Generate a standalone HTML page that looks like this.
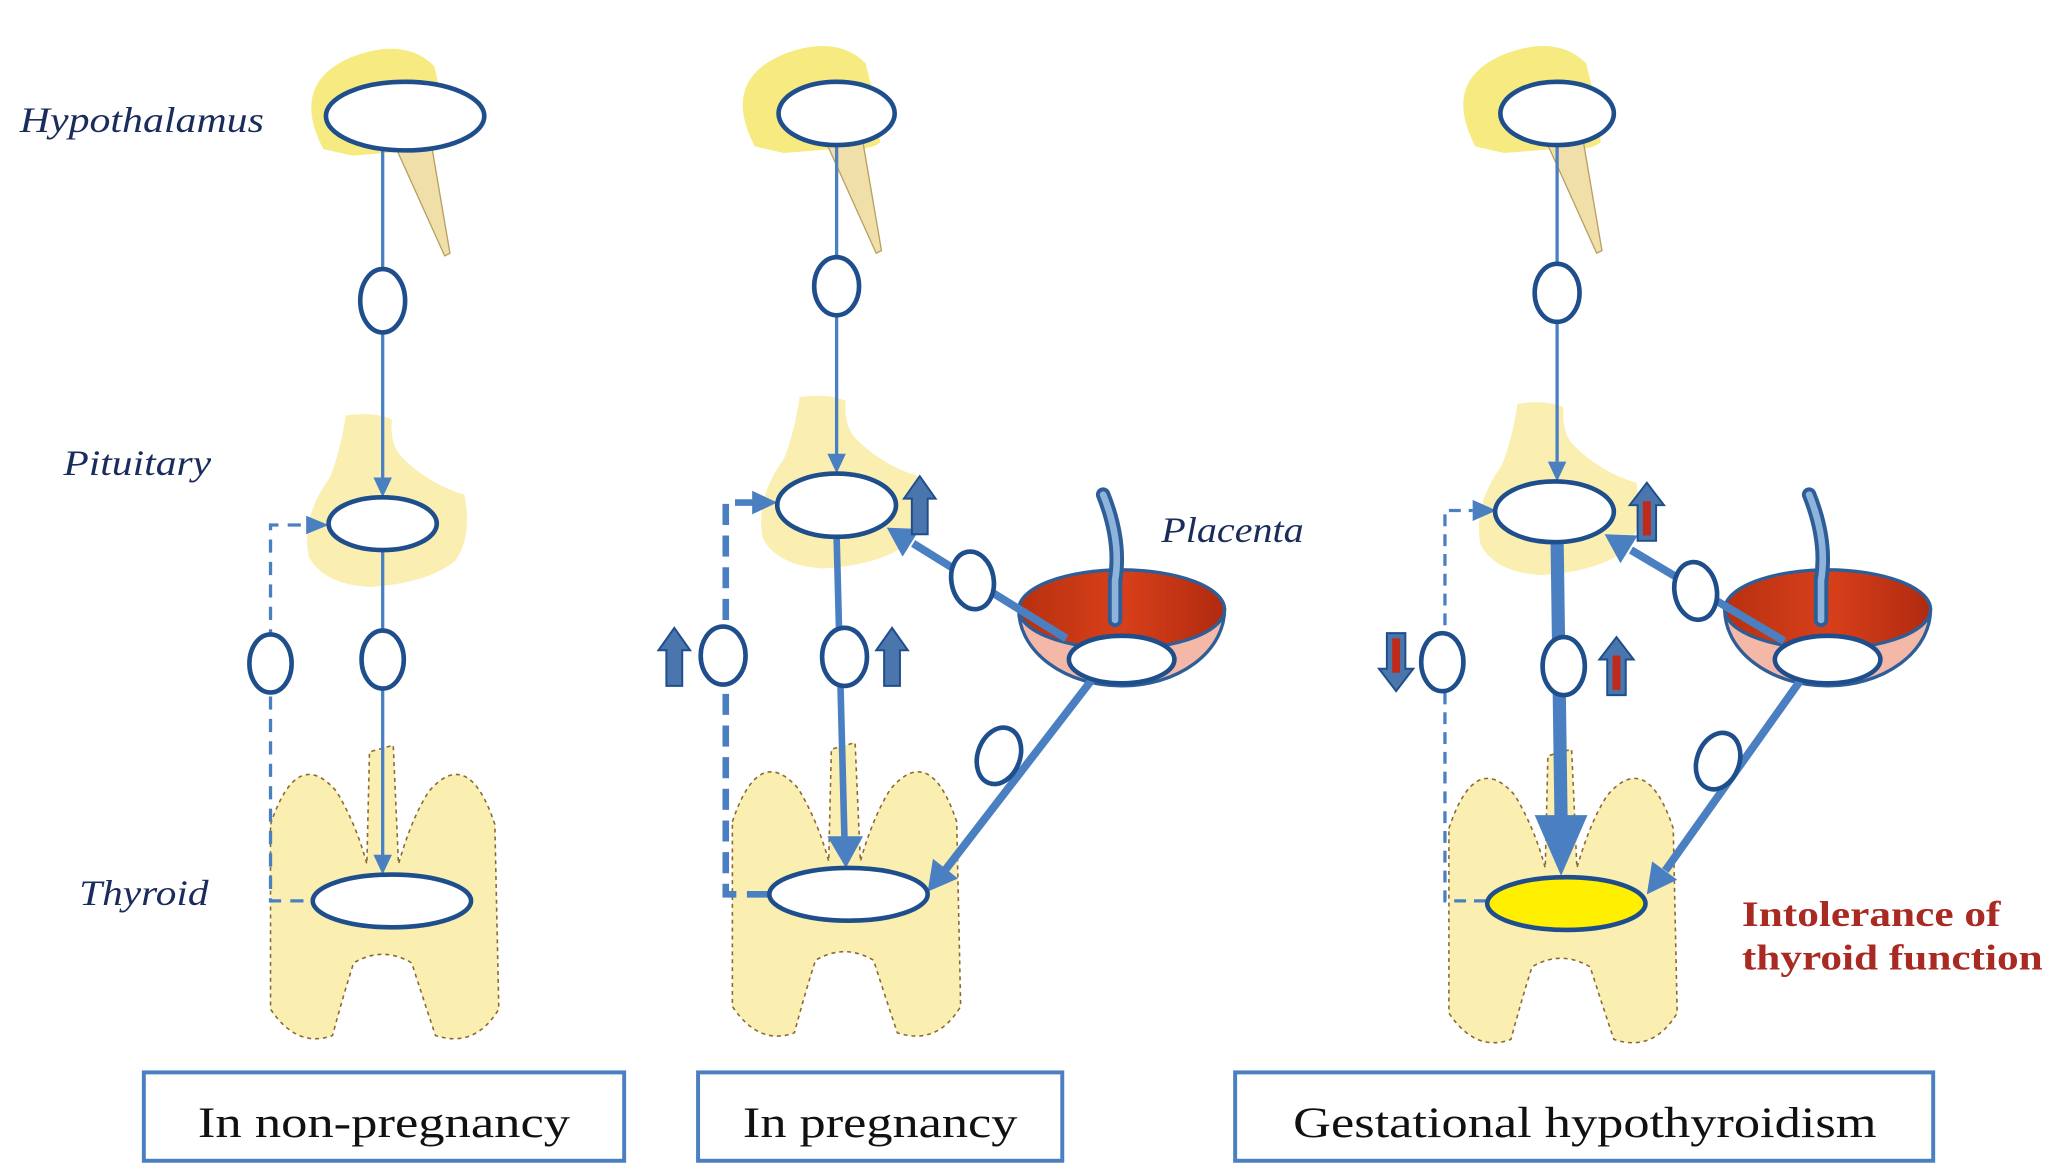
<!DOCTYPE html>
<html><head><meta charset="utf-8"><style>
html,body{margin:0;padding:0;background:#fff;}
svg{display:block;}
</style></head><body>
<svg width="2048" height="1170" viewBox="0 0 1552 887" preserveAspectRatio="none" xmlns="http://www.w3.org/2000/svg">
<defs>
<linearGradient id="red" x1="0" y1="0" x2="1" y2="0">
<stop offset="0" stop-color="#b83010"/><stop offset="0.5" stop-color="#d8401a"/><stop offset="1" stop-color="#b02a10"/>
</linearGradient>
<g id="thy">
<path d="M-85,-60 Q-65,-120 -35,-85 Q-20,-60 -12,-30 L-10,-115 L8,-120 L12,-30 Q22,-65 35,-85 Q65,-120 85,-60 L88,80 Q70,110 40,100 Q30,70 22,45 Q0,32 -22,45 Q-30,70 -38,100 Q-65,110 -85,80 Z" fill="#faeeb0" stroke="#8a6a30" stroke-width="1.2" stroke-dasharray="3,3"/>
</g>
<g id="pit">
<path d="M-28,-82 Q-5,-85 7,-79 Q5,-60 15,-50 Q35,-30 62,-22 Q68,10 55,28 Q35,45 -10,48 Q-45,46 -56,25 Q-62,-5 -40,-35 Q-32,-55 -28,-82 Z" fill="#faeeb0"/>
</g>
<g id="hyp">
<path d="M-62,25 Q-88,-25 -40,-45 Q0,-60 22,-38 L30,-5 L33,22 Q25,28 10,26 L-40,30 Z" fill="#f6ea80"/>
<path d="M-7,24 L20,22 L34,104 L30,106 Z" fill="#f0dfa8" stroke="#b8a060" stroke-width="1"/>
</g>
<g id="bowl">
<path d="M-78,-8 A78,58 0 0,0 78,-8 Z" fill="#f4b8a8" stroke="#2e5e98" stroke-width="2.5"/>
<ellipse cx="0" cy="-8" rx="78" ry="30" fill="url(#red)" stroke="#2e5e98" stroke-width="2.5"/>
<path d="M-5,0 L-5,-30 Q0,-60 -14,-95" fill="none" stroke="#2e5e98" stroke-width="11" stroke-linecap="round"/>
<path d="M-5,0 L-5,-30 Q0,-60 -14,-95" fill="none" stroke="#8fb4dc" stroke-width="5" stroke-linecap="round"/>
</g>
<g id="up">
<polygon points="-6,22 6,22 6,-5 12,-5 0,-22 -12,-5 -6,-5" fill="#4a76ad" stroke="#1f4e8c" stroke-width="1.5"/>
</g>
<g id="upr">
<polygon points="-7,22 7,22 7,-5 13,-5 0,-22 -13,-5 -7,-5" fill="#4a76ad" stroke="#1f4e8c" stroke-width="1.5"/>
<rect x="-3" y="-8" width="6" height="26" fill="#c02a1a"/>
</g>
</defs>

<!-- Labels -->
<g font-family="Liberation Serif, serif" font-style="italic" fill="#1a2c5c" font-size="27">
<text x="15" y="100" textLength="185" lengthAdjust="spacingAndGlyphs">Hypothalamus</text>
<text x="48" y="360" textLength="112" lengthAdjust="spacingAndGlyphs">Pituitary</text>
<text x="60" y="686" textLength="98" lengthAdjust="spacingAndGlyphs">Thyroid</text>
<text x="880" y="411" textLength="108" lengthAdjust="spacingAndGlyphs">Placenta</text>
</g>

<!-- ========== Panel 1 ========== -->
<use href="#hyp" x="307" y="88"/>
<use href="#pit" x="290" y="397"/>
<use href="#thy" x="290" y="685"/>
<g stroke="#4a80c2" fill="none" stroke-width="2.5">
<line x1="290" y1="113" x2="290" y2="364"/>
<line x1="290" y1="417" x2="290" y2="650"/>
<path d="M230,683 L205,683 L205,398 L234,398" stroke-dasharray="10,7"/>
</g>
<g fill="#4a80c2">
<polygon points="283,362 297,362 290,377"/>
<polygon points="283,648 297,648 290,663"/>
<polygon points="232,391 232,405 249,398"/>
</g>
<g fill="#fff" stroke="#1f4e8c" stroke-width="3.5">
<ellipse cx="307" cy="88" rx="60" ry="26"/>
<ellipse cx="290" cy="228" rx="17" ry="24"/>
<ellipse cx="290" cy="397" rx="41" ry="20"/>
<ellipse cx="290" cy="500" rx="16" ry="22"/>
<ellipse cx="205" cy="503" rx="16" ry="22"/>
<ellipse cx="297" cy="683" rx="60" ry="20"/>
</g>

<!-- ========== Panel 2 ========== -->
<use href="#hyp" x="634" y="86"/>
<use href="#pit" x="634" y="383"/>
<use href="#thy" x="640" y="683"/>
<use href="#bowl" x="850" y="470"/>
<g stroke="#4a80c2" fill="none">
<line x1="634" y1="110" x2="634" y2="345" stroke-width="2.5"/>
<line x1="634" y1="407" x2="640" y2="638" stroke-width="5"/>
<path d="M582,678 L550,678 L550,381 L572,381" stroke-width="5" stroke-dasharray="16,8"/>
<line x1="808" y1="484" x2="692" y2="412" stroke-width="6"/>
<line x1="830" y1="512" x2="716" y2="660" stroke-width="6"/>
</g>
<g fill="#4a80c2">
<polygon points="627,344 641,344 634,359"/>
<polygon points="627,634 654,634 641,658"/>
<polygon points="570,372 570,390 589,381"/>
<polygon points="672,400 697,401 684,422"/>
<polygon points="703,676 726,666 707,651"/>
</g>
<g fill="#fff" stroke="#1f4e8c" stroke-width="3.5">
<ellipse cx="634" cy="86" rx="44" ry="24"/>
<ellipse cx="634" cy="217" rx="17" ry="22"/>
<ellipse cx="634" cy="383" rx="45" ry="24"/>
<ellipse cx="640" cy="498" rx="17" ry="22"/>
<ellipse cx="548" cy="497" rx="17" ry="22"/>
<ellipse cx="643" cy="678" rx="60" ry="20"/>
<ellipse cx="737" cy="440" rx="16" ry="22" transform="rotate(-10 737 440)"/>
<ellipse cx="757" cy="573" rx="16" ry="22" transform="rotate(20 757 573)"/>
<ellipse cx="850" cy="500" rx="40" ry="18"/>
</g>
<use href="#up" x="697" y="383"/>
<use href="#up" x="676" y="498"/>
<use href="#up" x="511" y="498"/>

<!-- ========== Panel 3 ========== -->
<use href="#hyp" x="1180" y="86"/>
<use href="#pit" x="1178" y="388"/>
<use href="#thy" x="1183" y="688"/>
<use href="#bowl" x="1385" y="470"/>
<g stroke="#4a80c2" fill="none">
<line x1="1180" y1="110" x2="1180" y2="350" stroke-width="2.5"/>
<line x1="1180" y1="411" x2="1183" y2="622" stroke-width="10"/>
<path d="M1126,683 L1095,683 L1095,387 L1116,387" stroke-width="2.5" stroke-dasharray="9,6"/>
<line x1="1352" y1="486" x2="1236" y2="417" stroke-width="6"/>
<line x1="1365" y1="515" x2="1262" y2="660" stroke-width="6"/>
</g>
<g fill="#4a80c2">
<polygon points="1173,350 1187,350 1180,365"/>
<polygon points="1163,618 1203,618 1183,664"/>
<polygon points="1116,379 1116,395 1134,387"/>
<polygon points="1216,405 1241,406 1228,427"/>
<polygon points="1248,678 1271,667 1252,653"/>
</g>
<g fill="#fff" stroke="#1f4e8c" stroke-width="3.5">
<ellipse cx="1180" cy="86" rx="43" ry="24"/>
<ellipse cx="1180" cy="222" rx="17" ry="22"/>
<ellipse cx="1178" cy="388" rx="45" ry="23"/>
<ellipse cx="1185" cy="505" rx="16" ry="22"/>
<ellipse cx="1093" cy="502" rx="16" ry="22"/>
<ellipse cx="1187" cy="685" rx="60" ry="20" fill="#ffef00"/>
<ellipse cx="1285" cy="448" rx="16" ry="22" transform="rotate(-10 1285 448)"/>
<ellipse cx="1302" cy="577" rx="16" ry="22" transform="rotate(20 1302 577)"/>
<ellipse cx="1385" cy="500" rx="40" ry="18"/>
</g>
<use href="#upr" x="1248" y="388"/>
<use href="#upr" x="1225" y="505"/>
<use href="#upr" transform="translate(1058 502) rotate(180)"/>

<g font-family="Liberation Serif, serif" font-weight="bold" fill="#a82a22" font-size="27">
<text x="1320" y="702" textLength="196" lengthAdjust="spacingAndGlyphs">Intolerance of</text>
<text x="1320" y="735" textLength="228" lengthAdjust="spacingAndGlyphs">thyroid function</text>
</g>

<!-- Boxes -->
<g fill="#fff" stroke="#4a80c2" stroke-width="3">
<rect x="109" y="813" width="364" height="67"/>
<rect x="529" y="813" width="276" height="67"/>
<rect x="936" y="813" width="529" height="67"/>
</g>
<g font-family="Liberation Serif, serif" fill="#111" font-size="33">
<text x="150" y="862" textLength="282" lengthAdjust="spacingAndGlyphs">In non-pregnancy</text>
<text x="563" y="862" textLength="208" lengthAdjust="spacingAndGlyphs">In pregnancy</text>
<text x="980" y="862" textLength="442" lengthAdjust="spacingAndGlyphs">Gestational hypothyroidism</text>
</g>
</svg>
</body></html>
